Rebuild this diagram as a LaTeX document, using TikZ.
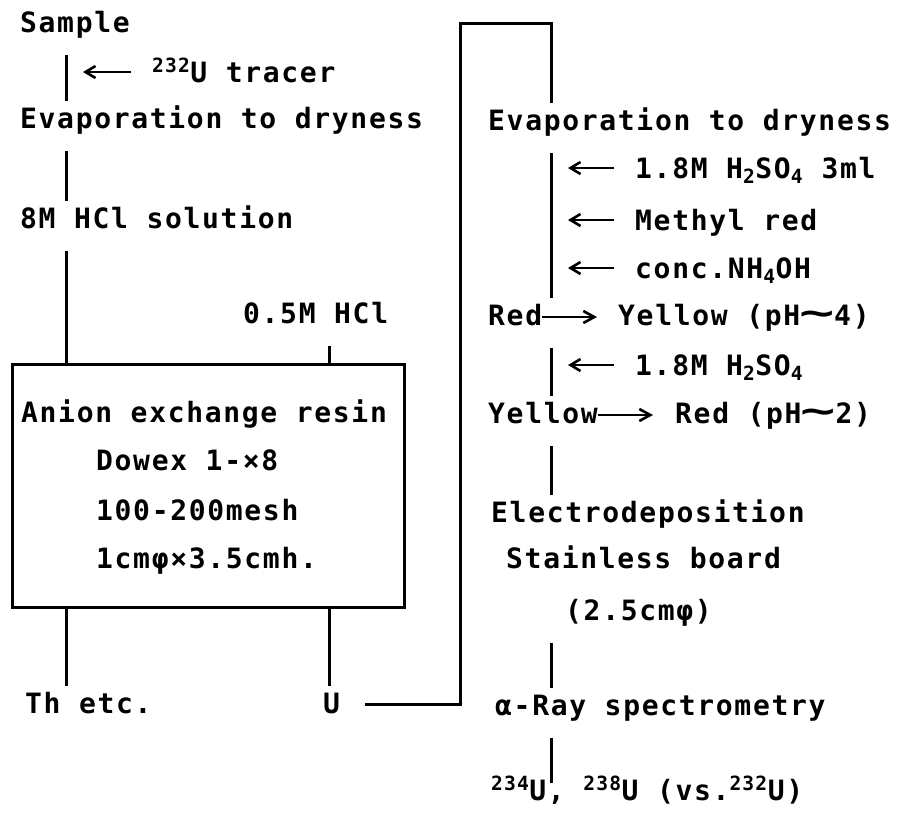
\documentclass[tikz,border=0pt]{standalone}
\usepackage{fontspec}
\usepackage{graphicx}
\usepackage{tikz}
\usetikzlibrary{arrows.meta, positioning}
\newfontfamily\typefont[LetterSpace=6]{DejaVu Sans Mono}
\newcommand{\flowfont}{\typefont\fontsize{28}{32}\selectfont\bfseries}
\newcommand{\widewave}{\makebox[34pt]{\scalebox{2.1}[1.3]{∼}}}

\begin{document}
\begin{tikzpicture}[
		x=1pt, y=-1pt,
		flow/.style={anchor=base west, inner sep=0pt, text height=27pt, text depth=23pt, font=\flowfont},
		reagent/.style={anchor=base west, inner sep=0pt, text height=20pt, text depth=0pt, font=\flowfont},
		column/.style={draw, line width=3pt, inner sep=0pt, minimum width=392pt, minimum height=243pt},
		wire/.style={line width=3pt},
		add/.style={-{Straight Barb[length=10pt,width=12pt]}, line width=2.6pt, shorten <=21pt, shorten >=17pt},
		turn/.style={-{Straight Barb[length=11pt,width=12pt]}, line width=2.6pt}
		]
		\useasboundingbox (0,0) rectangle (899,815);
		
		% Stems
		\coordinate (stemL) at (66,0);
		\coordinate (stemM) at (329,0);
		\coordinate (stemR) at (551,0);
		\coordinate (bend) at (460,23);
		
		% Left column
		\node[flow] (sample) at (20,32) {Sample};
		\node[reagent] (tracer) at (152,82) {\textsuperscript{232}U tracer};
		\node[flow] (evapA) at (20,128) {Evaporation to dryness};
		\node[flow] (hclA) at (20,228) {8M HCl solution};
		\node[flow] (hclB) at (243,323) {0.5M HCl};
		\node[column] (resin) at (208,485.5) {};
		\node[flow] (anion) at (21,422) {Anion exchange resin};
		\node[flow] (dowex) at (96,470) {Dowex 1-×8};
		\node[flow] (mesh) at (96,520) {100-200mesh};
		\node[flow] (size) at (96,568) {1cmφ×3.5cmh.};
		\node[flow] (thetc) at (25,713) {Th etc.};
		\node[flow] (u) at (323,713) {U};
		
		% Right column
		\node[flow] (evapB) at (488,130) {Evaporation to dryness};
		\node[reagent] (acidA) at (635,178) {1.8M H\textsubscript{2}SO\textsubscript{4} 3ml};
		\node[reagent] (methyl) at (635,230) {Methyl red};
		\node[reagent] (ammonia) at (635,278) {conc.NH\textsubscript{4}OH};
		\node[flow] (redA) at (488,325) {Red};
		\node[flow] (yellowA) at (618,325) {Yellow (pH\widewave4)};
		\node[reagent] (acidB) at (635,375) {1.8M H\textsubscript{2}SO\textsubscript{4}};
		\node[flow] (yellowB) at (488,423) {Yellow};
		\node[flow] (redB) at (675,423) {Red (pH\widewave2)};
		\node[flow] (electro) at (491,522) {Electrodeposition};
		\node[flow] (board) at (506,568) {Stainless board};
		\node[flow] (disk) at (565,620) {(2.5cmφ)};
		\node[flow] (alpha) at (495,715) {α-Ray spectrometry};
		\node[flow] (result) at (491,800) {\textsuperscript{234}U, \textsuperscript{238}U (vs.\textsuperscript{232}U)};
		
		% Left flow
		\draw[wire] (sample.south -| stemL) -- (evapA.north -| stemL);
		\draw[add] (tracer.west) -- (tracer.west -| stemL);
		\draw[wire] (evapA.south -| stemL) -- (hclA.north -| stemL);
		\draw[wire] (hclA.south -| stemL) -- (resin.north -| stemL);
		\draw[wire] (hclB.south -| stemM) -- (resin.north -| stemM);
		\draw[wire] (resin.south -| stemL) -- (thetc.north -| stemL);
		\draw[wire] (resin.south -| stemM) -- (u.north -| stemM);
		\draw[wire] ([shift={(25pt,7pt)}]u.east) -| (bend) -| (evapB.north -| stemR);
		
		% Right flow
		\draw[wire] (evapB.south -| stemR) -- (redA.north -| stemR);
		\draw[add] (acidA.west) -- (acidA.west -| stemR);
		\draw[add] (methyl.west) -- (methyl.west -| stemR);
		\draw[add] (ammonia.west) -- (ammonia.west -| stemR);
		\draw[turn, shorten >=21pt] ([yshift=8pt]redA.base east) -- ([yshift=8pt]yellowA.base west);
		\draw[wire] (redA.south -| stemR) -- (yellowB.north -| stemR);
		\draw[add] (acidB.west) -- (acidB.west -| stemR);
		\draw[turn, shorten >=22pt] ([yshift=8pt]yellowB.base east) -- ([yshift=8pt]redB.base west);
		\draw[wire] (yellowB.south -| stemR) -- (electro.north -| stemR);
		\draw[wire] (disk.south -| stemR) -- (alpha.north -| stemR);
		\draw[wire, shorten >=-10pt] (alpha.south -| stemR) -- (result.north -| stemR);
		
	\end{tikzpicture}
\end{document}
